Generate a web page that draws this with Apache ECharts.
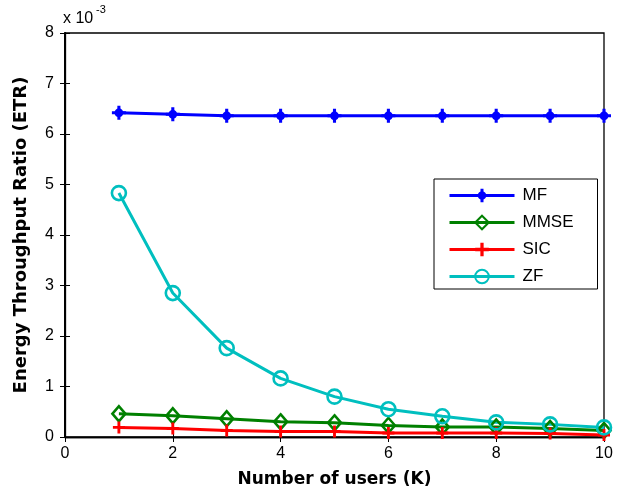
<!DOCTYPE html>
<html>
<head>
<meta charset="utf-8">
<script src="https://cdn.jsdelivr.net/npm/echarts@6/dist/echarts.min.js"></script>
<style>
  html, body { margin: 0; padding: 0; background: #fff; }
  #chart { width: 621px; height: 498px; }
</style>
</head>
<body>
<div id="chart"></div>
<script>
// Number of users K
const users = [1, 2, 3, 4, 5, 6, 7, 8, 9, 10];
// Energy throughput ratio, in units of 1e-3
const mfETR   = [6.42, 6.39, 6.36, 6.36, 6.36, 6.36, 6.36, 6.36, 6.36, 6.36];
const mmseETR = [0.46, 0.42, 0.36, 0.30, 0.28, 0.23, 0.20, 0.20, 0.17, 0.13];
const sicETR  = [0.19, 0.17, 0.13, 0.11, 0.11, 0.08, 0.08, 0.08, 0.07, 0.04];
const zfETR   = [4.83, 2.85, 1.76, 1.16, 0.80, 0.55, 0.41, 0.29, 0.25, 0.19];

const seriesNames = ['MF', 'MMSE', 'SIC', 'ZF'];
const seriesColors = ['#0000ff', '#008000', '#ff0000', '#00bfbf'];

const FONT = 'Liberation Sans, Arial, Helvetica, sans-serif';
const TITLE_FONT = 'DejaVu Sans, Liberation Sans, Arial, sans-serif';

// marker shapes: thick asterisk blob and thin plus
const starPath = 'path://M-0.22,-1 L0.22,-1 L0.22,-0.6 L0.45,-0.45 L0.6,-0.22 L1,-0.22 L1,0.22 L0.6,0.22 L0.45,0.45 L0.22,0.6 L0.22,1 L-0.22,1 L-0.22,0.6 L-0.45,0.45 L-0.6,0.22 L-1,0.22 L-1,-0.22 L-0.6,-0.22 L-0.45,-0.45 L-0.22,-0.6 Z';
const plusPath = 'path://M-1,-0.24 L-0.24,-0.24 L-0.24,-1 L0.24,-1 L0.24,-0.24 L1,-0.24 L1,0.24 L0.24,0.24 L0.24,1 L-0.24,1 L-0.24,0.24 L-1,0.24 Z';

const pairs = arr => users.map((k, i) => [k, arr[i]]);

function lineSeries(name, data, color, symbol, size, hollow) {
  return {
    name: name,
    type: 'line',
    data: pairs(data),
    symbol: symbol,
    symbolSize: size,
    showAllSymbol: true,
    lineStyle: { color: color, width: 3 },
    itemStyle: hollow
      ? { color: 'rgba(255,255,255,0)', borderColor: color, borderWidth: 2.6 }
      : { color: color, borderColor: color, borderWidth: 0 },
    emphasis: { disabled: true },
    z: 3
  };
}

const chart = echarts.init(document.getElementById('chart'), null, { renderer: 'canvas' });

const axisLabelStyle = { color: '#000', fontSize: 16, fontFamily: FONT };
const titleStyle = { color: '#000', fontSize: 18, fontWeight: 'bold', fontFamily: TITLE_FONT };

chart.setOption({
  animation: false,
  backgroundColor: '#fff',
  grid: { left: 65, right: 17, top: 33, bottom: 61, show: true, borderColor: '#000', borderWidth: 1.3, backgroundColor: '#fff' },
  xAxis: [
    {
      type: 'value', min: 0, max: 10, interval: 2, position: 'bottom',
      name: 'Number of users (K)', nameLocation: 'middle', nameGap: 34,
      nameTextStyle: Object.assign({}, titleStyle, { fontSize: 17 }),
      axisLine: { show: true, lineStyle: { color: '#000', width: 1.3 } },
      axisTick: { show: true, inside: true, length: 5, lineStyle: { color: '#000' } },
      axisLabel: Object.assign({ margin: 9 }, axisLabelStyle),
      splitLine: { show: false }
    },
    {
      type: 'value', min: 0, max: 10, interval: 2, position: 'top',
      axisLine: { show: true, lineStyle: { color: '#000', width: 1.3 } },
      axisTick: { show: true, inside: true, length: 5, lineStyle: { color: '#000' } },
      axisLabel: { show: false },
      splitLine: { show: false }
    }
  ],
  yAxis: [
    {
      type: 'value', min: 0, max: 8, interval: 1, position: 'left',
      name: 'Energy Throughput Ratio (ETR)', nameLocation: 'middle', nameGap: 35,
      nameTextStyle: titleStyle,
      axisLine: { show: true, lineStyle: { color: '#000', width: 2 } },
      axisTick: { show: true, inside: true, length: 5, lineStyle: { color: '#000' } },
      axisLabel: Object.assign({ margin: 11 }, axisLabelStyle),
      splitLine: { show: false }
    },
    {
      type: 'value', min: 0, max: 8, interval: 1, position: 'right',
      axisLine: { show: true, lineStyle: { color: '#000', width: 1.3 } },
      axisTick: { show: true, inside: true, length: 5, lineStyle: { color: '#000' } },
      axisLabel: { show: false },
      splitLine: { show: false }
    }
  ],
  legend: {
    orient: 'vertical',
    left: 434, top: 179,
    padding: [8, 24, 4, 14],
    itemWidth: 65, itemHeight: 17, itemGap: 10,
    backgroundColor: '#fff',
    borderColor: '#000', borderWidth: 1,
    lineStyle: { width: 3 },
    textStyle: { color: '#000', fontSize: 17, fontFamily: FONT, padding: [0, 0, 0, 3] },
    data: seriesNames
  },
  graphic: [
    {
      type: 'text', left: 63, top: 11,
      style: { text: 'x 10', fill: '#000', font: '16px ' + FONT }
    },
    {
      type: 'text', left: 96, top: 4,
      style: { text: '-3', fill: '#000', font: '11px ' + FONT }
    }
  ],
  series: [
    lineSeries(seriesNames[0], mfETR, seriesColors[0], starPath, 14, false),
    lineSeries(seriesNames[1], mmseETR, seriesColors[1], 'diamond', [13, 15], true),
    lineSeries(seriesNames[2], sicETR, seriesColors[2], plusPath, 12, false),
    lineSeries(seriesNames[3], zfETR, seriesColors[3], 'circle', 14, true)
  ]
});
</script>
</body>
</html>
